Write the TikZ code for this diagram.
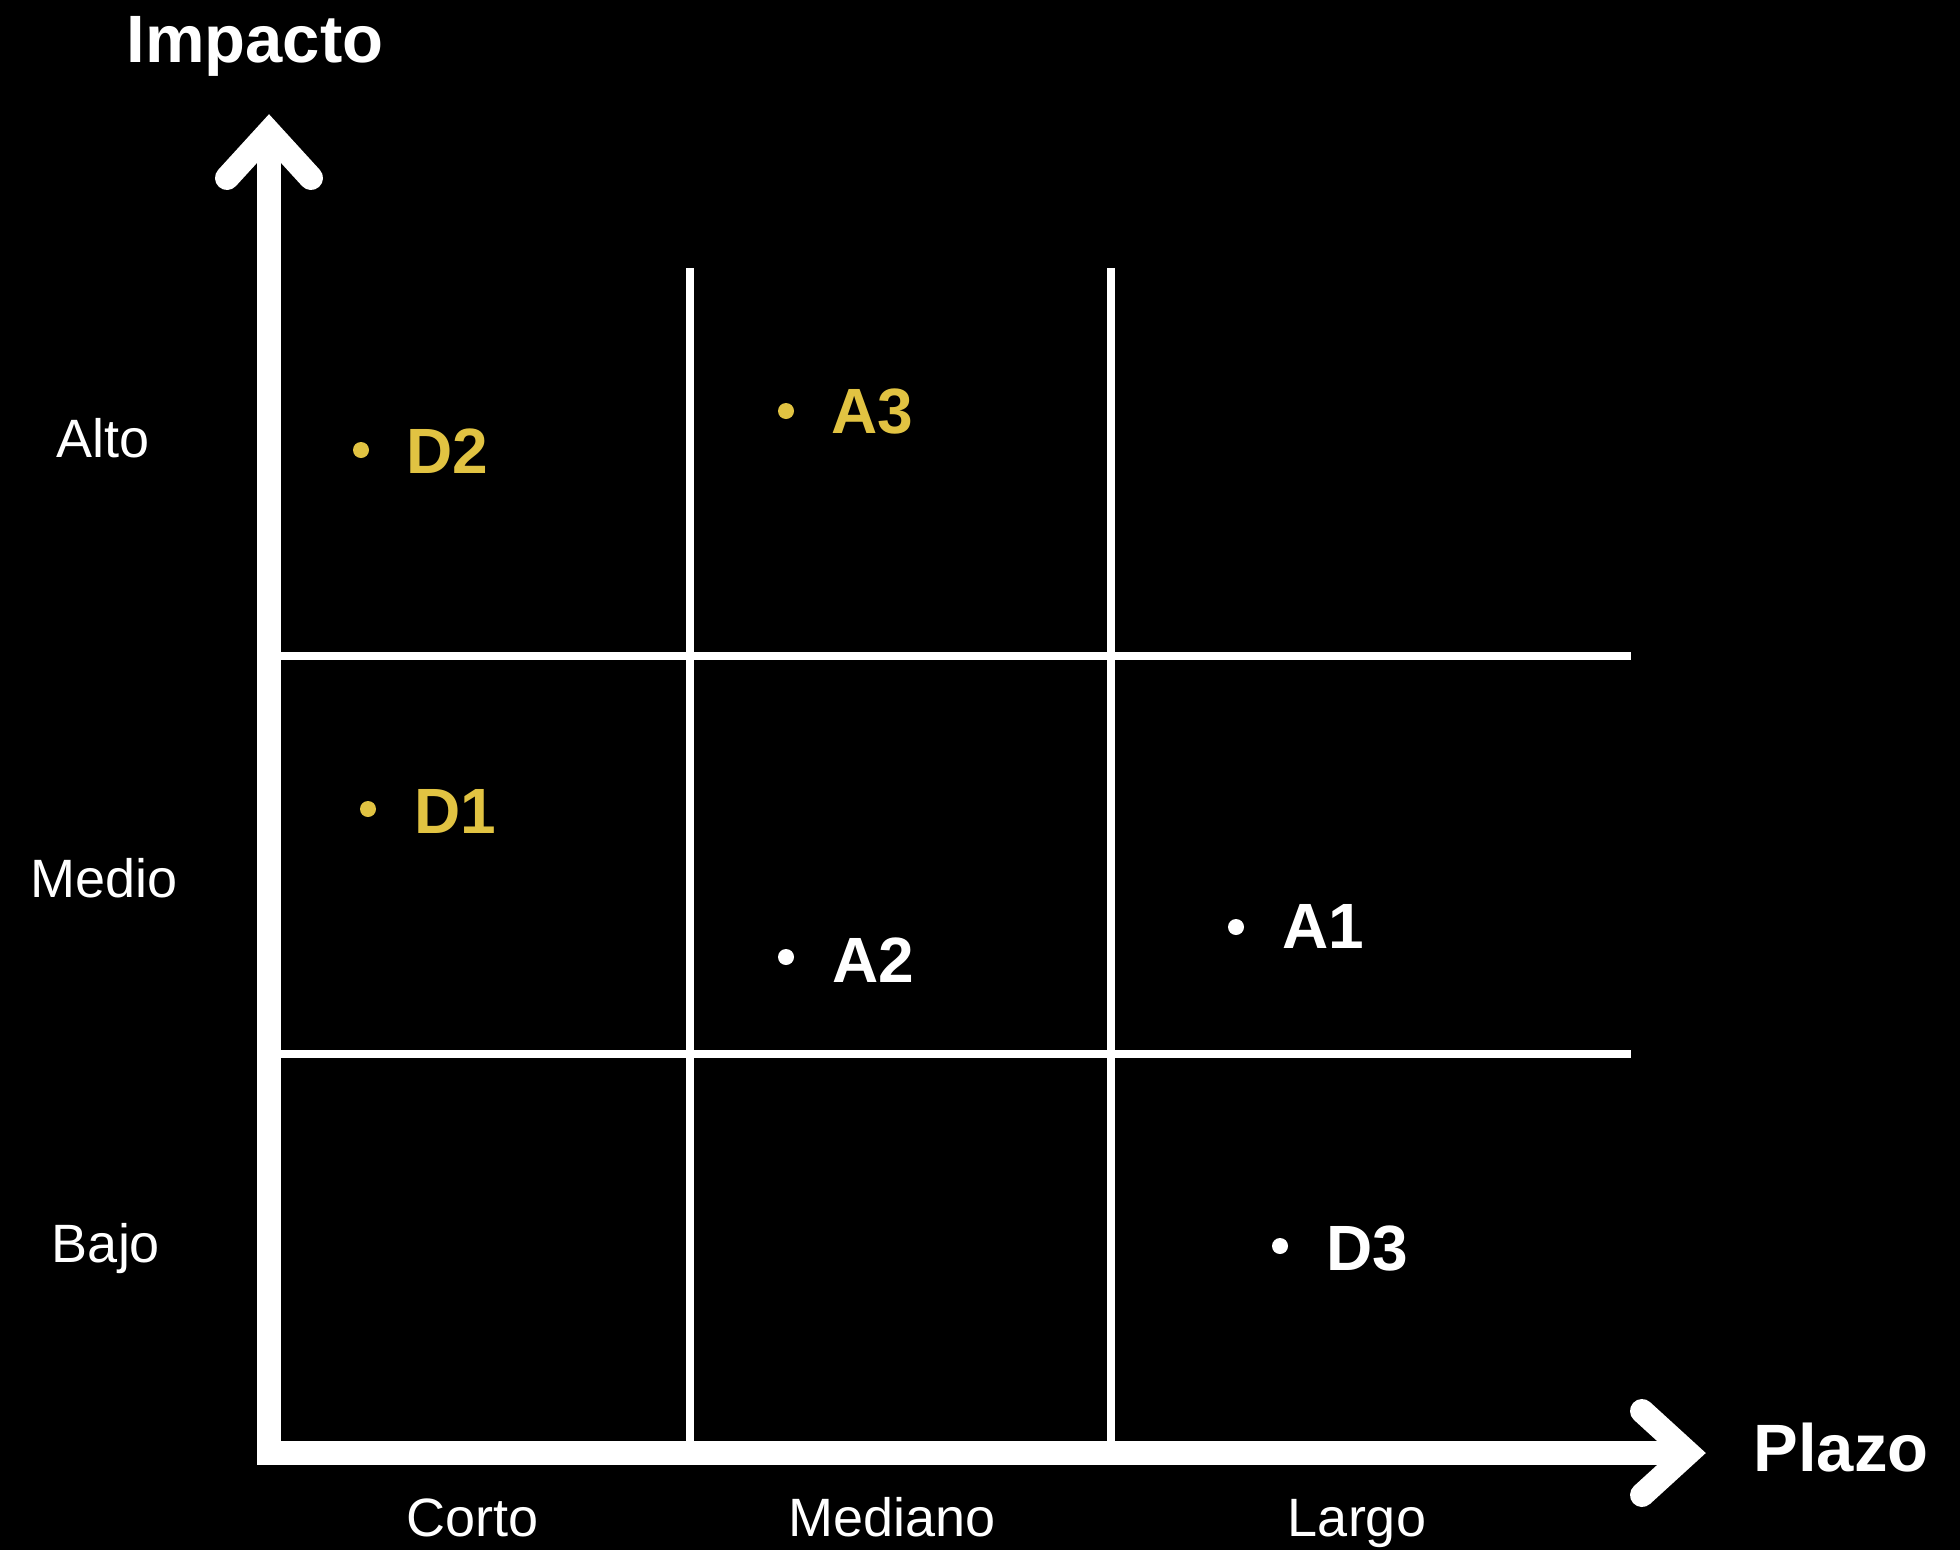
\documentclass[tikz,border=0pt]{standalone}
\usepackage{fontspec}
\setmainfont{Liberation Sans}
\definecolor{ylw}{RGB}{225,195,66}
\begin{document}
\begin{tikzpicture}[x=1pt,y=-1pt,
  axis/.style={draw=white,line width=24pt,line join=miter},
  head/.style={draw=white,line width=24pt,line cap=round,line join=miter},
  grid/.style={draw=white,line width=8pt},
  dot/.style={circle,fill=#1,inner sep=0pt,minimum size=16pt},
  plabel/.style={text=#1,font=\fontsize{64}{64}\selectfont\bfseries,inner sep=0pt,anchor=base west},
  axlabel/.style={text=white,font=\fontsize{54}{54}\selectfont,inner sep=0pt,anchor=base},
  axtitle/.style={text=white,font=\fontsize{67}{67}\selectfont\bfseries,inner sep=0pt,anchor=base}]
\fill[black] (0,0) rectangle (1960,1550);
\useasboundingbox (0,0) rectangle (1960,1550);
% axes
\coordinate (ytip) at (269,132);
\coordinate (orig) at (269,1453);
\coordinate (xtip) at (1688,1453);
\coordinate (yl) at (227,178);
\coordinate (yr) at (311,178);
\coordinate (xu) at (1642,1411);
\coordinate (xd) at (1642,1495);
\draw[axis] (ytip) -- (orig) -- (xtip);
\draw[head] (yl) -- (ytip) -- (yr);
\draw[head] (xu) -- (xtip) -- (xd);
% grid
\coordinate (v1t) at (690,268); \coordinate (v1b) at (690,1441);
\coordinate (v2t) at (1111,268); \coordinate (v2b) at (1111,1441);
\coordinate (h1l) at (281,656); \coordinate (h1r) at (1631,656);
\coordinate (h2l) at (281,1054); \coordinate (h2r) at (1631,1054);
\draw[grid] (v1t) -- (v1b);
\draw[grid] (v2t) -- (v2b);
\draw[grid] (h1l) -- (h1r);
\draw[grid] (h2l) -- (h2r);
% titles
\node[axtitle] (impacto) at (255,62) {Impacto};
\node[axtitle] (plazo) at (1841,1471) {Plazo};
% axis labels
\node[axlabel] (alto) at (103,457) {Alto};
\node[axlabel] (medio) at (104,897) {Medio};
\node[axlabel] (bajo) at (106,1262) {Bajo};
\node[axlabel] (corto) at (473,1536) {Corto};
\node[axlabel] (mediano) at (892,1536) {Mediano};
\node[axlabel] (largo) at (1357,1536) {Largo};
% points
\node[dot=ylw] (pD2) at (361,450) {};
\node[plabel=ylw] (lD2) at (406,473) {D2};
\node[dot=ylw] (pA3) at (786,411) {};
\node[plabel=ylw] (lA3) at (831,433) {A3};
\node[dot=ylw] (pD1) at (368,809) {};
\node[plabel=ylw] (lD1) at (414,833) {D1};
\node[dot=white] (pA2) at (786,957) {};
\node[plabel=white] (lA2) at (832,982) {A2};
\node[dot=white] (pA1) at (1236,927) {};
\node[plabel=white] (lA1) at (1282,948) {A1};
\node[dot=white] (pD3) at (1280,1246) {};
\node[plabel=white] (lD3) at (1326,1270) {D3};
\end{tikzpicture}
\end{document}
